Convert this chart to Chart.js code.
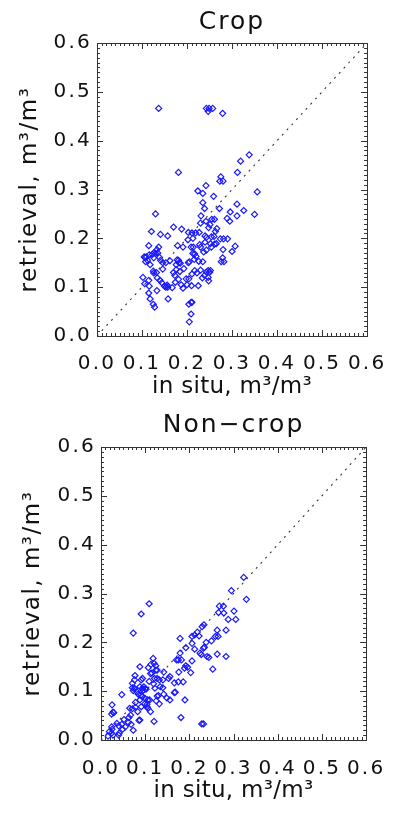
<!DOCTYPE html>
<html>
<head>
<meta charset="utf-8">
<script src="https://cdn.jsdelivr.net/npm/chart.js@4.4.1/dist/chart.umd.min.js"></script>
<style>
  body { margin: 0; background: #fff; }
  canvas { display: block; }
</style>
</head>
<body>
<canvas id="crop" width="399" height="406"></canvas>
<canvas id="noncrop" width="399" height="407"></canvas>
<script>
// axis ticks and the 1:1 reference line
var tickLabels = ['0.0', '0.1', '0.2', '0.3', '0.4', '0.5', '0.6'];
var oneToOne = [0, 0.6];

// Crop panel
var cropInSitu = [0.137,0.243,0.249,0.257,0.247,0.279,0.181,0.338,0.319,0.312,
  0.275,0.273,0.280,0.356,0.224,0.235,0.242,0.259,0.235,0.239,
  0.272,0.311,0.326,0.350,0.296,0.311,0.289,0.295,0.130,0.231,
  0.242,0.255,0.261,0.230,0.251,0.248,0.266,0.263,0.170,0.188,
  0.121,0.141,0.157,0.203,0.211,0.219,0.202,0.213,0.227,0.240,
  0.243,0.254,0.260,0.274,0.281,0.290,0.115,0.137,0.133,0.105,
  0.116,0.127,0.130,0.135,0.139,0.141,0.179,0.191,0.209,0.214,
  0.228,0.230,0.240,0.252,0.254,0.261,0.265,0.280,0.307,0.300,
  0.217,0.220,0.213,0.237,0.243,0.279,0.282,0.276,0.108,0.118,
  0.110,0.146,0.153,0.162,0.176,0.181,0.185,0.203,0.205,0.216,
  0.226,0.235,0.125,0.132,0.146,0.170,0.176,0.184,0.193,0.102,
  0.106,0.115,0.116,0.126,0.134,0.140,0.144,0.150,0.153,0.156,
  0.174,0.181,0.187,0.191,0.200,0.204,0.198,0.211,0.217,0.222,
  0.230,0.234,0.239,0.243,0.247,0.250,0.252,0.247,0.248,0.210,
  0.225,0.167,0.157,0.115,0.118,0.125,0.128,0.133,0.158,0.204,
  0.209,0.211,0.209,0.205,0.173,0.107,0.112,0.123,0.126,0.178,0.182];
var cropRetrieval = [0.466,0.466,0.466,0.466,0.460,0.456,0.335,0.371,0.358,0.335,
  0.326,0.317,0.317,0.295,0.297,0.292,0.308,0.286,0.273,0.261,
  0.261,0.270,0.257,0.249,0.254,0.246,0.241,0.235,0.250,0.246,
  0.235,0.239,0.239,0.231,0.228,0.222,0.220,0.214,0.223,0.219,
  0.214,0.208,0.205,0.212,0.211,0.211,0.197,0.200,0.212,0.205,
  0.202,0.203,0.204,0.199,0.199,0.199,0.185,0.182,0.177,0.162,
  0.166,0.171,0.169,0.170,0.161,0.155,0.185,0.182,0.182,0.182,
  0.187,0.182,0.192,0.189,0.182,0.188,0.189,0.177,0.184,0.173,
  0.168,0.163,0.169,0.172,0.176,0.160,0.152,0.152,0.152,0.146,
  0.162,0.150,0.150,0.154,0.146,0.155,0.149,0.150,0.152,0.157,
  0.153,0.152,0.133,0.130,0.137,0.130,0.136,0.132,0.138,0.120,
  0.107,0.114,0.102,0.129,0.119,0.114,0.109,0.102,0.100,0.104,
  0.110,0.116,0.105,0.098,0.105,0.117,0.117,0.127,0.134,0.129,
  0.135,0.119,0.124,0.131,0.134,0.130,0.134,0.120,0.113,0.103,
  0.103,0.099,0.100,0.088,0.076,0.065,0.059,0.093,0.076,0.065,
  0.069,0.069,0.045,0.029,0.124,0.161,0.155,0.167,0.160,0.156,0.150];

// Non-crop panel
var nonCropInSitu = [0.323,0.329,0.295,0.109,0.091,0.073,0.268,0.277,0.278,0.266,
  0.288,0.301,0.305,0.283,0.263,0.259,0.265,0.250,0.233,0.229,
  0.218,0.222,0.212,0.206,0.238,0.234,0.232,0.244,0.240,0.224,
  0.227,0.253,0.263,0.283,0.179,0.192,0.206,0.212,0.171,0.175,
  0.179,0.182,0.206,0.192,0.196,0.189,0.176,0.203,0.156,0.153,
  0.166,0.175,0.186,0.166,0.168,0.149,0.142,0.140,0.190,0.181,
  0.228,0.232,0.088,0.118,0.120,0.124,0.124,0.115,0.127,0.127,
  0.112,0.121,0.132,0.134,0.130,0.127,0.125,0.132,0.122,0.119,
  0.109,0.110,0.106,0.112,0.104,0.094,0.091,0.088,0.077,0.076,
  0.071,0.071,0.076,0.073,0.081,0.084,0.090,0.088,0.091,0.099,
  0.100,0.104,0.102,0.100,0.097,0.094,0.096,0.094,0.078,0.078,
  0.083,0.071,0.067,0.068,0.073,0.086,0.088,0.065,0.062,0.047,
  0.025,0.027,0.024,0.029,0.024,0.025,0.024,0.027,0.036,0.040,
  0.041,0.040,0.047,0.049,0.052,0.055,0.063,0.120,0.106,0.140,
  0.113,0.107,0.142,0.156,0.019,0.016];
var nonCropRetrieval = [0.333,0.288,0.306,0.279,0.258,0.219,0.274,0.274,0.260,0.261,
  0.247,0.264,0.247,0.225,0.225,0.212,0.212,0.203,0.236,0.232,
  0.221,0.213,0.215,0.212,0.200,0.190,0.188,0.169,0.171,0.178,
  0.175,0.145,0.176,0.171,0.208,0.189,0.198,0.186,0.164,0.164,
  0.178,0.164,0.162,0.152,0.149,0.147,0.139,0.138,0.130,0.126,
  0.117,0.119,0.119,0.097,0.098,0.086,0.094,0.107,0.082,0.046,
  0.033,0.033,0.150,0.167,0.157,0.152,0.143,0.137,0.143,0.126,
  0.136,0.126,0.123,0.109,0.091,0.090,0.080,0.074,0.106,0.115,
  0.120,0.082,0.065,0.058,0.073,0.126,0.123,0.109,0.132,0.123,
  0.116,0.107,0.106,0.101,0.099,0.094,0.092,0.082,0.068,0.074,
  0.085,0.068,0.104,0.105,0.109,0.106,0.102,0.089,0.077,0.067,
  0.058,0.064,0.051,0.032,0.020,0.040,0.041,0.065,0.036,0.093,
  0.072,0.057,0.053,0.056,0.027,0.022,0.014,0.010,0.034,0.029,
  0.014,0.010,0.032,0.022,0.042,0.027,0.046,0.038,0.082,0.123,
  0.155,0.148,0.139,0.082,0.017,0.008];

var fontFamily = "'DejaVu Sans', sans-serif";
var textColor = '#111';
var blue = 'rgb(25,25,255)';

// box round the plot, with inward ticks on every side (major 0.1, minor 0.01)
var frameTicks = {
  id: 'frameTicks',
  afterDatasetsDraw: function(chart) {
    var ctx = chart.ctx, a = chart.chartArea;
    var xs = chart.scales.x, ys = chart.scales.y;
    ctx.save();
    ctx.strokeStyle = '#333';
    ctx.lineWidth = 1;
    ctx.beginPath();
    for (var i = 0; i <= 60; i++) {
      var len = i % 10 === 0 ? 6 : 3;
      var px = Math.round(xs.getPixelForValue(i / 100)) + 0.5;
      ctx.moveTo(px, a.bottom); ctx.lineTo(px, a.bottom - len);
      ctx.moveTo(px, a.top); ctx.lineTo(px, a.top + len);
      var py = Math.round(ys.getPixelForValue(i / 100)) + 0.5;
      ctx.moveTo(a.left, py); ctx.lineTo(a.left + len, py);
      ctx.moveTo(a.right, py); ctx.lineTo(a.right - len, py);
    }
    ctx.stroke();
    ctx.strokeRect(Math.round(a.left) + 0.5, Math.round(a.top) + 0.5,
      Math.round(a.right - a.left), Math.round(a.bottom - a.top));
    ctx.restore();
  }
};

// the original lettering is wide and open, so space the glyphs out a little
var spacing = {
  id: 'spacing',
  beforeDraw: function(chart, args, opts) {
    var ctx = chart.ctx;
    function wrap(obj, name, px) {
      if (!obj || obj['_spaced_' + name]) return;
      var orig = obj[name];
      obj[name] = function() {
        ctx.letterSpacing = px + 'px';
        var r = orig.apply(this, arguments);
        ctx.letterSpacing = '0px';
        return r;
      };
      obj['_spaced_' + name] = true;
    }
    wrap(chart.titleBlock, 'draw', opts.title);
    wrap(chart.scales.x, 'drawLabels', opts.ticks);
    wrap(chart.scales.y, 'drawLabels', opts.ticks);
    wrap(chart.scales.x, 'drawTitle', opts.xTitle);
    wrap(chart.scales.y, 'drawTitle', opts.yTitle);
  }
};

function makeChart(id, title, xs, ys, g) {
  var tickFont = { family: fontFamily, size: 20 };
  var axisFont = { family: fontFamily, size: 23 };
  return new Chart(document.getElementById(id), {
    type: 'scatter',
    data: {
      datasets: [{
        data: xs.map(function(x, i) { return { x: x, y: ys[i] }; }),
        pointStyle: 'rectRot',
        radius: 3,
        borderWidth: 1.2,
        borderColor: blue,
        backgroundColor: 'rgba(0,0,0,0)',
        order: 1
      }, {
        type: 'line',
        data: oneToOne.map(function(v) { return { x: v, y: v }; }),
        borderColor: '#333',
        borderWidth: 1.1,
        borderDash: [2, 5],
        pointRadius: 0,
        order: 2
      }]
    },
    options: {
      responsive: false,
      animation: false,
      events: [],
      layout: { padding: { left: 0, right: g.padRight, top: 0, bottom: 0 } },
      plugins: {
        legend: { display: false },
        tooltip: { enabled: false },
        title: {
          display: true, text: title, fullSize: false, color: textColor,
          font: { family: fontFamily, size: 25, weight: 'normal' },
          padding: { top: g.titleTop, bottom: g.titleBottom }
        },
        spacing: { title: 2, ticks: 2.2, xTitle: 0.3, yTitle: 1.5 }
      },
      scales: {
        x: {
          type: 'linear', min: 0, max: 0.6,
          grid: { display: false, drawTicks: false },
          border: { display: false },
          ticks: { stepSize: 0.1, padding: g.xTickPad, color: textColor, font: tickFont, maxRotation: 0,
                   callback: function(v) { return tickLabels[Math.round(v * 10)]; } },
          title: { display: true, text: 'in situ, m\u00b3/m\u00b3', color: textColor, font: axisFont,
                   padding: { top: 0, bottom: g.xTitleBottom } },
          afterFit: function(s) { s.height = g.xHeight; }
        },
        y: {
          type: 'linear', min: 0, max: 0.6,
          grid: { display: false, drawTicks: false },
          border: { display: false },
          ticks: { stepSize: 0.1, padding: g.yTickPad, color: textColor, font: tickFont,
                   callback: function(v) { return tickLabels[Math.round(v * 10)]; } },
          title: { display: true, text: 'retrieval, m\u00b3/m\u00b3', color: textColor, font: axisFont,
                   padding: { top: g.yTitleTop, bottom: 0 } },
          afterFit: function(s) { s.width = g.yWidth; }
        }
      }
    },
    plugins: [frameTicks, spacing]
  });
}

makeChart('crop', 'Crop', cropInSitu, cropRetrieval, {
  padRight: 23, yWidth: 97, xHeight: 70,
  titleTop: 7.5, titleBottom: 5.5, xTickPad: 16, xTitleBottom: 5, yTickPad: 5, yTitleTop: 16.5
});
makeChart('noncrop', 'Non\u2212crop', nonCropInSitu, nonCropRetrieval, {
  padRight: 20, yWidth: 101, xHeight: 73,
  titleTop: 4, titleBottom: 7, xTickPad: 17, xTitleBottom: 8, yTickPad: 5, yTitleTop: 19
});
</script>
</body>
</html>
